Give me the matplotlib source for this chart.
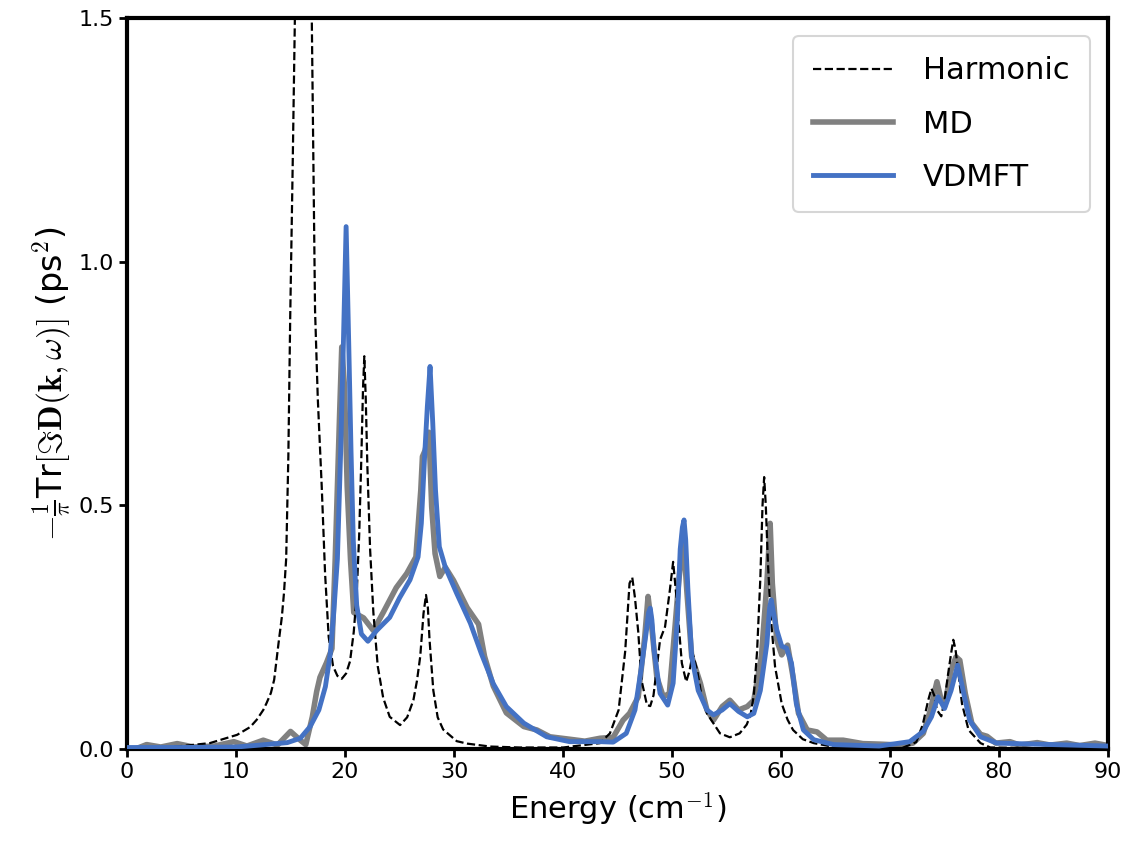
import numpy as np
import matplotlib
matplotlib.use("Agg")
import matplotlib.pyplot as plt

plt.rcParams['mathtext.fontset'] = 'cm'

# harmonic spectrum
harm_x = [0.0, 2.5, 4.6, 7.6, 10.1, 11.3, 11.9, 12.5, 12.8, 13.2, 13.5, 13.9, 14.2, 14.4,
          14.6, 14.8, 14.97, 15.2, 15.4, 16.1, 16.95, 17.1, 17.25, 17.5, 17.86, 18.17, 18.5,
          18.9, 19.3, 19.7, 20.1, 20.46, 20.8, 21.07, 21.3, 21.5, 21.65, 21.77, 21.9, 22.05,
          22.3, 22.6, 23.0, 23.5, 24.1, 25.05, 25.7, 26.27, 26.6, 26.9, 27.2, 27.43, 27.6,
          27.75, 28.1, 28.5, 29.0, 30.25, 31.2, 33.3, 36.0, 40.0, 43.4, 44.3, 45.1, 45.7,
          46.1, 46.35, 46.6, 46.9, 47.2, 47.7, 48.0, 48.3, 48.9, 49.36, 49.8, 50.1, 50.4,
          50.9, 51.3, 51.6, 51.9, 52.3, 52.7, 53.2, 54.4, 55.3, 56.2, 56.85, 57.2, 57.5,
          57.8, 58.1, 58.3, 58.45, 58.6, 58.8, 59.05, 59.45, 60.06, 60.6, 61.1, 62.0, 63.0,
          65.4, 70.9, 72.4, 73.0, 73.5, 73.8, 74.05, 74.3, 74.7, 75.0, 75.3, 75.6, 75.8,
          76.0, 76.2, 76.6, 77.2, 78.3, 79.2, 90.0]
harm_y = [0.0, 0.002, 0.005, 0.012, 0.029, 0.045, 0.06, 0.08, 0.094, 0.115, 0.142, 0.217, 0.27, 0.32,
          0.39, 0.6, 0.884, 1.2, 1.5, 2.4, 1.5, 1.2, 0.9, 0.72, 0.54, 0.36, 0.23,
          0.17, 0.15, 0.144, 0.155, 0.18, 0.24, 0.317, 0.44, 0.6, 0.74, 0.806, 0.72, 0.58,
          0.41, 0.28, 0.17, 0.105, 0.066, 0.049, 0.065, 0.1, 0.14, 0.19, 0.278, 0.316, 0.29,
          0.225, 0.12, 0.065, 0.04, 0.016, 0.011, 0.005, 0.003, 0.003, 0.012, 0.032, 0.08, 0.2,
          0.34, 0.352, 0.31, 0.24, 0.141, 0.09, 0.088, 0.11, 0.224, 0.251, 0.326, 0.384, 0.312,
          0.176, 0.138, 0.16, 0.196, 0.162, 0.11, 0.073, 0.032, 0.024, 0.032, 0.05, 0.07, 0.11,
          0.2, 0.35, 0.5, 0.558, 0.5, 0.38, 0.272, 0.169, 0.093, 0.06, 0.039, 0.02, 0.012,
          0.002, 0.0, 0.014, 0.05, 0.1, 0.124, 0.11, 0.08, 0.067, 0.1, 0.15, 0.196, 0.224,
          0.205, 0.169, 0.093, 0.039, 0.012, 0.003, 0.0]

# MD spectrum
md_x = [1.0, 1.8, 3.1, 4.6, 6.1, 8.0, 9.8, 11.0, 12.5, 13.8, 15.0, 15.9, 16.4, 17.0, 17.4,
        17.7, 18.3, 18.8, 19.1, 19.5, 19.7, 19.95, 20.2, 20.5, 20.8, 21.7, 22.6, 23.5, 24.7,
        25.66, 26.5, 26.95, 27.1, 27.35, 27.7, 27.95, 28.26, 28.7, 29.2, 29.95, 31.2, 32.25,
        32.8, 33.6, 34.8, 36.4, 37.6, 38.8, 40.6, 42.0, 43.4, 44.6, 45.5, 46.1, 46.9, 47.5,
        47.8, 48.1, 48.6, 49.2, 49.75, 50.3, 50.6, 50.9, 51.0, 51.35, 51.8, 52.6, 53.2, 53.8,
        54.6, 55.3, 56.1, 56.9, 57.5, 58.2, 58.7, 59.0, 59.2, 59.6, 60.06, 60.6, 61.1, 61.6,
        62.4, 63.3, 64.2, 65.7, 67.5, 69.0, 71.0, 72.1, 73.05, 73.7, 74.3, 74.7, 75.0, 75.6,
        76.05, 76.4, 76.9, 77.5, 78.3, 78.9, 79.7, 81.0, 81.9, 83.5, 84.7, 86.2, 87.4, 88.8,
        90.0]
md_y = [0.002, 0.009, 0.004, 0.011, 0.004, 0.006, 0.015, 0.006, 0.018, 0.008, 0.036, 0.018,
        0.009, 0.066, 0.118, 0.147, 0.177, 0.206, 0.39, 0.685, 0.825, 0.744, 0.538, 0.39, 0.28,
        0.269, 0.243, 0.28, 0.331, 0.36, 0.394, 0.531, 0.6, 0.613, 0.65, 0.497, 0.401, 0.354,
        0.373, 0.346, 0.29, 0.256, 0.19, 0.129, 0.074, 0.046, 0.039, 0.025, 0.02, 0.016, 0.022,
        0.024, 0.059, 0.073, 0.107, 0.231, 0.313, 0.258, 0.148, 0.107, 0.114, 0.258, 0.34,
        0.408, 0.449, 0.326, 0.19, 0.135, 0.08, 0.059, 0.087, 0.1, 0.08, 0.087, 0.1, 0.19,
        0.34, 0.463, 0.34, 0.224, 0.193, 0.213, 0.148, 0.073, 0.039, 0.035, 0.018, 0.018,
        0.011, 0.01, 0.008, 0.012, 0.032, 0.08, 0.138, 0.1, 0.087, 0.162, 0.189, 0.182, 0.114,
        0.053, 0.03, 0.026, 0.012, 0.015, 0.008, 0.013, 0.008, 0.012, 0.007, 0.012, 0.007]

# VDMFT spectrum
vd_x = [0.0, 5.0, 10.0, 12.2, 14.7, 15.9, 16.8, 17.6, 18.2, 18.65, 18.96, 19.3, 19.6, 19.85,
        20.1, 20.34, 20.55, 20.76, 21.07, 21.5, 22.1, 22.9, 24.1, 25.0, 25.96, 26.7, 27.0,
        27.3, 27.55, 27.8, 28.05, 28.3, 28.65, 29.2, 30.25, 31.5, 32.5, 33.6, 34.8, 36.4,
        38.5, 40.6, 43.4, 44.6, 45.8, 46.6, 47.2, 47.7, 47.85, 48.0, 48.15, 48.35, 48.9, 49.6,
        50.1, 50.5, 50.75, 50.95, 51.1, 51.25, 51.45, 51.8, 52.4, 53.2, 53.8, 54.6, 55.3,
        56.1, 56.9, 57.5, 58.1, 58.7, 58.95, 59.1, 59.3, 59.6, 60.06, 60.5, 60.96, 61.4,
        62.05, 63.0, 64.8, 69.0, 71.8, 73.05, 73.8, 74.4, 75.0, 75.6, 76.2, 76.7, 77.3, 78.3,
        79.8, 90.0]
vd_y = [0.003, 0.003, 0.004, 0.008, 0.013, 0.022, 0.046, 0.08, 0.128, 0.196, 0.278, 0.39,
        0.611, 0.832, 1.072, 0.832, 0.611, 0.427, 0.295, 0.236, 0.221, 0.243, 0.27, 0.31,
        0.347, 0.394, 0.463, 0.6, 0.702, 0.785, 0.668, 0.531, 0.415, 0.373, 0.319, 0.258,
        0.196, 0.134, 0.087, 0.053, 0.025, 0.015, 0.015, 0.014, 0.032, 0.08, 0.169, 0.251,
        0.28, 0.289, 0.265, 0.203, 0.114, 0.09, 0.135, 0.272, 0.41, 0.455, 0.47, 0.43, 0.33,
        0.19, 0.12, 0.08, 0.07, 0.08, 0.093, 0.077, 0.066, 0.073, 0.12, 0.216, 0.29, 0.306,
        0.28, 0.245, 0.211, 0.207, 0.176, 0.093, 0.039, 0.019, 0.009, 0.006, 0.015, 0.036,
        0.066, 0.107, 0.083, 0.12, 0.172, 0.12, 0.059, 0.025, 0.012, 0.006]

fig = plt.figure(figsize=(11.27, 8.51), dpi=100)
ax = fig.add_axes([0.1127, 0.1199, 0.8705, 0.8589])

ax.plot(harm_x, harm_y, 'k--', lw=1.6, label='Harmonic', zorder=3)
ax.plot(md_x, md_y, color='#808080', lw=4, label='MD', zorder=2)
ax.plot(vd_x, vd_y, color='#4472c4', lw=3.5, label='VDMFT', zorder=4)

ax.set_xlim(0, 90)
ax.set_ylim(0, 1.5)
ax.set_xticks(np.arange(0, 91, 10))
ax.set_yticks([0.0, 0.5, 1.0, 1.5])
ax.tick_params(labelsize=16, width=2, length=6)
for s in ax.spines.values():
    s.set_linewidth(3)

ax.set_xlabel(r'Energy (cm$^{-1}$)', fontsize=22, labelpad=6)
ax.set_ylabel(r'$-\frac{1}{\pi}$Tr$[\Im\mathbf{D}(\mathbf{k},\omega)]$ (ps$^2$)', fontsize=24,
              labelpad=4)

leg = ax.legend(loc='upper right', fontsize=22, handlelength=2.6, handletextpad=1.0,
                borderpad=0.65, labelspacing=0.8, fancybox=True, borderaxespad=0.6)
leg.get_frame().set_linewidth(1.5)

fig.savefig('out.png', dpi=100)
